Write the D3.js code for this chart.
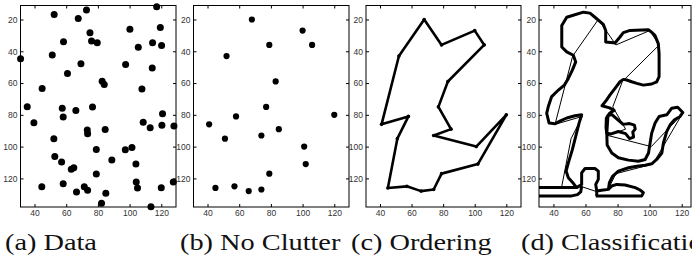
<!DOCTYPE html>
<html>
<head>
<meta charset="utf-8">
<script src="https://cdn.jsdelivr.net/npm/d3@7"></script>
<style>
    body { margin: 0; background: #fff; }
    svg { display: block; }
    .tick text { font-family: "Liberation Sans", Arial, Helvetica, sans-serif; font-size: 8.5px; }
</style>
</head>
<body>
<svg id="root" width="692" height="259"></svg>
<script>
// (a) all detections
const dataX = [117.1, 52.4, 72.8, 67.6, 100.2, 119.4, 75, 58.3, 76, 79.6, 114.5, 120.2, 105.5, 31.2, 51.2,
    69.3, 97.5, 114.3, 60.8, 82.7, 84, 44.8, 107.8, 35.4, 57.5, 76.6, 66.1, 120.8, 58.1, 39.6, 108.6,
    73.3, 84.6, 113, 120.4, 128, 73.5, 52.2, 101.5, 79, 97.3, 52.8, 88.8, 57.1, 104, 79, 63.2, 64.8,
    44.6, 58.1, 71.4, 73.5, 66.5, 85, 104.2, 105, 120, 127.6, 82.3, 113.5];
const dataY = [12, 16.9, 14.1, 19.4, 26.1, 25, 28.4, 34, 33.6, 34.7, 34.7, 36.4, 37.4, 44.7, 42.4,
    47.9, 48.3, 50.6, 54, 58.8, 60.9, 63.4, 63.8, 74.9, 75.8, 75.1, 77.2, 79.3, 81.4, 85, 84.6,
    89.6, 89.2, 88.1, 86.5, 87.1, 91.9, 95.1, 100.5, 101.8, 102, 106.2, 108.5, 109.7, 111, 117.3, 114.3, 113.3,
    125.2, 123.4, 125.2, 127.5, 128.6, 129.4, 122.3, 126, 125.9, 122.3, 135.7, 137.8];

// (b) points kept after clutter removal
const keptX = [68, 100, 79, 106, 52, 83, 77, 58, 120, 41, 85, 51, 74, 101, 102, 79, 45, 57, 66, 74];
const keptY = [20, 27, 36, 36, 43, 59, 75, 81, 80, 86, 89, 95, 93, 100, 111, 117, 126, 125, 128, 127];

// (c) visiting order of the kept points
const tourOrder = [0, 4, 9, 7, 11, 16, 17, 18, 19, 15, 14, 8, 13, 12, 10, 6, 5, 3, 1, 2, 0];

// (d) classification outlines
const outlineMain = [[25, 125.7], [54.5, 125.8], [52.4, 123.1], [49.3, 119.6], [47.9, 115.4], [49.3, 110.2],
    [51.8, 101.9], [53.9, 93.5], [56, 85.2], [57.6, 80], [53.5, 80.6], [48.3, 82], [44, 84], [41, 85.6],
    [37.3, 85.2], [35.8, 79], [36.8, 74.8], [38.9, 68.5], [43.1, 64.4], [46.8, 61.3], [49.3, 57.1],
    [51.8, 51.9], [53.9, 46.7], [52.4, 42.5], [48.3, 40.4], [45.2, 37.3], [45.2, 23.8], [48.3, 18.6],
    [58.7, 15.4], [62.8, 16], [65.9, 18.6], [71.1, 23.1], [72.6, 26.9], [72.6, 34.2], [77.4, 34.6],
    [78.4, 34.8], [81.5, 31], [83.6, 28.3], [87.8, 26.9], [99.2, 26.5], [101.3, 28], [103.3, 30],
    [105.4, 35.2], [105.9, 41.5], [105.9, 56], [104.4, 59.2], [101.3, 60.6], [96.1, 61.3], [92, 60.2],
    [88.8, 59.2], [85.7, 58.1], [83.6, 57.7], [81.5, 59.2], [78.4, 63.3], [75.3, 67.5], [73.2, 70.6],
    [70.3, 74.3], [75, 75.6], [77.8, 77.2], [75, 79], [73, 82], [72.8, 88], [73.3, 92], [73.5, 99],
    [76.4, 104], [80.5, 107], [86.8, 108.5], [93, 109.2], [97.2, 108.1], [99.3, 104], [100.3, 97.7],
    [101.3, 91.5], [103.4, 85.2], [105.9, 81], [110.7, 80], [113.8, 75.8], [117.5, 75.2], [120.7, 78.5],
    [119, 81], [115.5, 83.1], [112.8, 86.3], [110.7, 90.4], [108.6, 97.7], [107.6, 104], [104.4, 108.1],
    [101.3, 110.8], [97.2, 111.7], [92, 112.3], [86.8, 113.3], [80.5, 115.4], [77, 118.5], [74.9, 122.7],
    [74.3, 126.9]];
const outlineBlob = [[74, 80.5], [76.5, 79.8], [79.5, 82.5], [83.5, 86], [87.5, 85.5], [90.5, 86.5], [91, 89],
    [89.5, 90.8], [90, 94], [87.5, 95], [85, 91.8], [80.5, 90.5], [76, 92], [73.3, 91.5]];
const outlineBump = [[54.5, 125.8], [57.6, 123.8], [57.6, 116.5], [59.7, 113.8], [65.9, 113.8], [68, 115.4],
    [68, 120.6], [66.4, 123.8], [67, 127.9], [67, 131]];
const outlineLowBar = [[25, 131], [51.4, 131], [55, 130.2], [57, 128.5], [57.6, 125]];
const outlineRightBar = [[66.4, 131], [95.1, 131], [96.1, 129], [94, 127.3], [91, 125.8], [84.7, 124.2],
    [79.5, 123.8], [76.4, 124.8], [74.3, 126.9], [70, 127.5], [67, 127.9]];

const xTicks = [40, 60, 80, 100, 120];
const yTicks = [20, 40, 60, 80, 100, 120];
const captions = ["(a) Data", "(b) No Clutter", "(c) Ordering", "(d) Classification"];

const main = () => {
    const svg = d3.select("#root");

    const top = 5.5;
    const bottom = 207;

    const panels = [
        { left: 20.5, right: 176, xDomain: [31.15, 129.3] },
        { left: 193.5, right: 349, xDomain: [31.15, 129.3] },
        { left: 366, right: 521, xDomain: [31.15, 129.3] },
        { left: 539, right: 691, xDomain: [31, 125.8] },
    ];

    const captionX = [5, 180, 351, 521];

    const scales = panels.map((p, i) => {
        const x = d3.scaleLinear().domain(p.xDomain).range([p.left, p.right]);
        const y = d3.scaleLinear().domain([11.2, 138]).range([top, bottom]);

        const g = svg.append("g");

        const styleAxis = (a) => {
            a.select(".domain").remove();
            a.selectAll(".tick line").attr("stroke", "#000");
            a.selectAll("text").attr("fill", "#333");
        };

        g.append("g")
            .attr("transform", `translate(0, ${bottom})`)
            .call(d3.axisBottom(x).tickValues(xTicks).tickSizeInner(-3).tickSizeOuter(0).tickPadding(3))
            .call(styleAxis);
        g.append("g")
            .attr("transform", `translate(0, ${top})`)
            .call(d3.axisTop(x).tickValues(xTicks).tickSizeInner(-3).tickSizeOuter(0).tickFormat(""))
            .call(styleAxis);
        g.append("g")
            .attr("transform", `translate(${p.left}, 0)`)
            .call(d3.axisLeft(y).tickValues(yTicks).tickSizeInner(-3).tickSizeOuter(0).tickPadding(3))
            .call(styleAxis);
        g.append("g")
            .attr("transform", `translate(${p.right}, 0)`)
            .call(d3.axisRight(y).tickValues(yTicks).tickSizeInner(-3).tickSizeOuter(0).tickFormat(""))
            .call(styleAxis);

        // d3 axes put their own font attrs on the group, clear them so the css wins
        g.selectAll("g").attr("font-family", null).attr("font-size", null);

        g.append("rect")
            .attr("x", p.left)
            .attr("y", top)
            .attr("width", p.right - p.left)
            .attr("height", bottom - top)
            .attr("fill", "none")
            .attr("stroke", "#000")
            .attr("stroke-width", 1);

        svg.append("text")
            .attr("transform", `translate(${captionX[i]}, 250) scale(1.18, 1)`)
            .attr("font-family", "Liberation Serif, Tinos, Times New Roman, Times, Nimbus Roman, FreeSerif, Noto Serif, DejaVu Serif, Georgia, serif")
            .attr("font-size", 24)
            .attr("fill", "#111")
            .text(captions[i]);

        return { x, y, g };
    });

    // (a)
    const a = scales[0];
    a.g.selectAll("circle")
        .data(dataX.map((d, i) => [d, dataY[i]]))
        .join("circle")
        .attr("cx", (d) => a.x(d[0]))
        .attr("cy", (d) => a.y(d[1]))
        .attr("r", 3.5)
        .attr("fill", "#000");

    // (b)
    const kept = keptX.map((d, i) => [d, keptY[i]]);
    const b = scales[1];
    b.g.selectAll("circle")
        .data(kept)
        .join("circle")
        .attr("cx", (d) => b.x(d[0]))
        .attr("cy", (d) => b.y(d[1]))
        .attr("r", 3.1)
        .attr("fill", "#000");

    // (c)
    const tour = tourOrder.map((i) => kept[i]);
    const c = scales[2];
    const lineC = d3.line().x((d) => c.x(d[0])).y((d) => c.y(d[1]));
    c.g.append("path")
        .attr("d", lineC(tour))
        .attr("fill", "none")
        .attr("stroke", "#000")
        .attr("stroke-width", 2.6)
        .attr("stroke-linejoin", "round");
    c.g.selectAll("circle")
        .data(kept)
        .join("circle")
        .attr("cx", (d) => c.x(d[0]))
        .attr("cy", (d) => c.y(d[1]))
        .attr("r", 1.8)
        .attr("fill", "#000");

    // (d)
    const d = scales[3];
    svg.append("clipPath")
        .attr("id", "clipD")
        .append("rect")
        .attr("x", panels[3].left)
        .attr("y", top)
        .attr("width", panels[3].right - panels[3].left)
        .attr("height", bottom - top);
    const lineD = d3.line().x((p) => d.x(p[0])).y((p) => d.y(p[1]));
    const dg = d.g.append("g").attr("clip-path", "url(#clipD)");
    dg.append("path")
        .attr("d", lineD(tour))
        .attr("fill", "none")
        .attr("stroke", "#000")
        .attr("stroke-width", 1);
    dg.selectAll("path.outline")
        .data([outlineMain, outlineBlob, outlineBump, outlineLowBar, outlineRightBar])
        .join("path")
        .attr("class", "outline")
        .attr("d", (p, i) => lineD(p) + (i == 1 ? "Z" : ""))
        .attr("fill", "none")
        .attr("stroke", "#000")
        .attr("stroke-width", 3)
        .attr("stroke-linejoin", "round");
};

main();
</script>
</body>
</html>
